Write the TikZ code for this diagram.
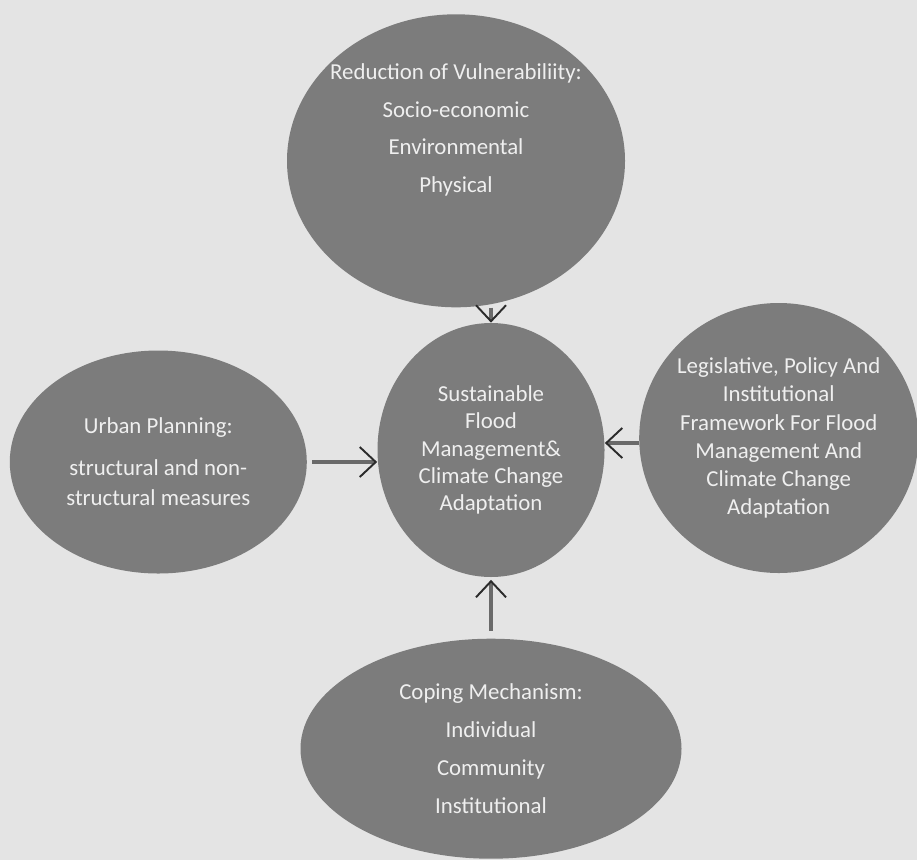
\documentclass[tikz,border=0pt]{standalone}
\usepackage{fontspec}
\setmainfont{Carlito}
\usepackage{tikz}
\usetikzlibrary{
  arrows.meta,
  shapes.geometric,
  positioning
}
\definecolor{fmPage}{HTML}{E4E4E4}
\definecolor{fmOval}{HTML}{7C7C7C}
\definecolor{fmText}{HTML}{EFEFEF}
\definecolor{fmShaft}{HTML}{6A6A6A}
\definecolor{fmTip}{HTML}{2B2B2B}
\tikzset{
  oval/.style={draw=none, ellipse, fill=fmOval, inner sep=0pt},
  ovaltext/.style={text=fmText, align=center, inner sep=0pt, font=\fontsize{13}{15.5}\selectfont},
  widetext/.style={ovaltext, font=\fontsize{13}{21.5}\selectfont},
  flow/.style={-{Straight Barb[length=3.2mm, width=6mm, line width=1.1pt, color=fmTip]}, line width=2.4pt, fmShaft}
}

\begin{document}
\begin{tikzpicture}
  \useasboundingbox (0,0) rectangle (18.34,-17.2);
  \fill[fmPage] (0,0) rectangle (18.34,-17.2);
  % ovals
  \node[oval, minimum width=45.4mm, minimum height=50.8mm] (core) at (9.82,-9.0) {};
  \node[oval, minimum width=67.6mm, minimum height=58.6mm, above=3mm of core, xshift=-7mm] (vuln) {};
  \node[oval, minimum width=59.4mm, minimum height=44.6mm, left=14mm of core, yshift=-2.4mm] (urban) {};
  \node[oval, minimum width=55.8mm, minimum height=54mm, right=6.8mm of core, yshift=2.4mm] (legal) {};
  \node[oval, minimum width=76.2mm, minimum height=44mm, below=12.2mm of core] (cope) {};
  % texts
  \node[ovaltext] (coretext) at (core) {Sustainable\\Flood\\Management\&\\Climate Change\\Adaptation};
  \node[widetext] (vulntext) at ([yshift=6.2mm]vuln.center) {Reduction of Vulnerabiliity:\\Socio-economic\\Environmental\\Physical};
  \node[ovaltext, font=\fontsize{13}{17}\selectfont] (urbantext) at (urban) {Urban Planning:\\[2.4mm]structural and non-\\structural measures};
  \node[ovaltext, font=\fontsize{13}{16}\selectfont] (legaltext) at (legal) {Legislative, Policy And\\Institutional\\Framework For Flood\\Management And\\Climate Change\\Adaptation};
  \node[widetext] (copetext) at (cope) {Coping Mechanism:\\Individual\\Community\\Institutional};
  % arrows
  \draw[flow] (core.north |- vuln.south) -- (core.north);
  \draw[flow, shorten <=1mm] (urban.east) -- (urban.east -| core.west);
  \draw[flow] ([yshift=-1mm]legal.west) -- ([yshift=-1mm]legal.west -| core.east);
  \draw[flow, shorten <=1.5mm, shorten >=0.5mm] (cope.north) -- (core.south);
\end{tikzpicture}
\end{document}
